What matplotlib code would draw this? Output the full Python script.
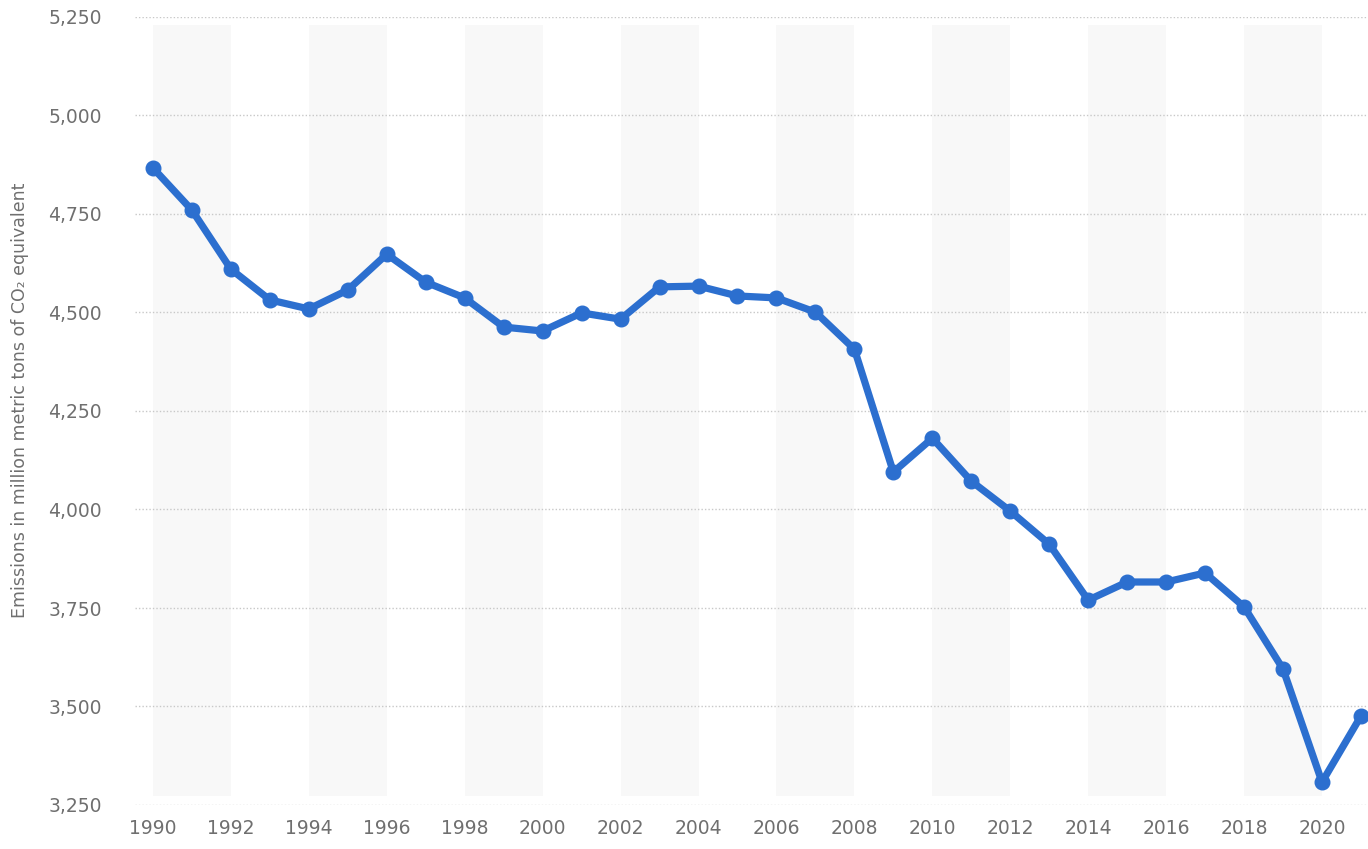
import numpy as np
import matplotlib.pyplot as plt
from matplotlib.ticker import FuncFormatter

years = list(range(1990, 2022))
emissions = [4867, 4760, 4610, 4532, 4509, 4557, 4648, 4577, 4537, 4463,
             4453, 4499, 4483, 4565, 4567, 4542, 4537, 4501, 4407, 4095,
             4181, 4072, 3996, 3912, 3770, 3816, 3816, 3839, 3753, 3595,
             3308, 3476]
y_ticks = [3250, 3500, 3750, 4000, 4250, 4500, 4750, 5000, 5250]
x_ticks = list(range(1990, 2021, 2))
y_label = "Emissions in million metric tons of CO\u2082 equivalent"

blue = '#2c6fcf'
grey_text = '#6f6f6f'

fig = plt.figure(figsize=(13.68, 8.49), dpi=100)
ax = fig.add_axes([135/1368, 1 - 805/849, 1 - 135/1368, (805 - 17)/849])

# light alternating background bands
for start in years[::4]:
    if start + 2 <= years[-1]:
        ax.axvspan(start, start + 2, ymin=0.012, ymax=0.99, color='#f8f8f8',
                   zorder=0, lw=0)

ax.plot(years, emissions, color=blue, lw=5.2, marker='o', markersize=10.5,
        zorder=3, clip_on=True, solid_joinstyle='round')

ax.set_xlim(1989.54, 2021.18)
ax.set_ylim(3250, 5250)
ax.set_yticks(y_ticks)
ax.set_xticks(x_ticks)
ax.yaxis.set_major_formatter(FuncFormatter(lambda v, p: f"{int(v):,}"))
ax.grid(axis='y', color='#c8c8c8', linestyle=(0, (1, 1.5)), lw=1)
ax.set_axisbelow(True)
for s in ax.spines.values():
    s.set_visible(False)
ax.tick_params(length=0, labelsize=13.5, colors=grey_text, pad=10)
ax.tick_params(axis='y', pad=24)
for lbl in ax.get_xticklabels() + ax.get_yticklabels():
    lbl.set_family('DejaVu Sans')

fig.text(20/1368, 1 - 400/849, y_label, rotation=90, ha='center', va='center',
         fontsize=12.5, color=grey_text, family='DejaVu Sans')

fig.savefig('out.png', dpi=100)
